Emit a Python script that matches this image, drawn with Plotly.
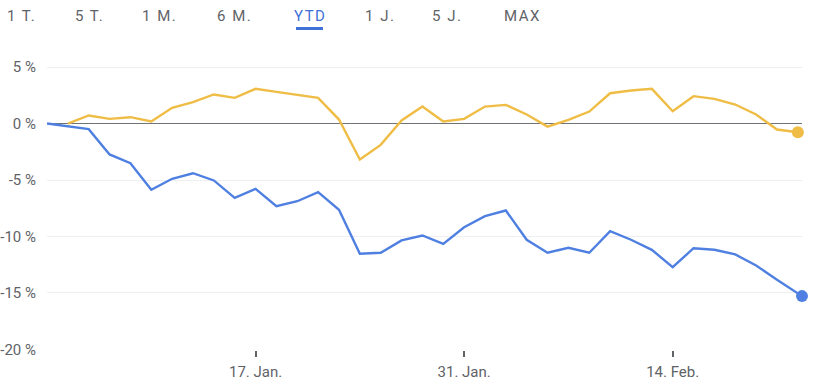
import plotly.graph_objects as go

# ---- data (trading-day index, percent change YTD) ----
blue_x = list(range(36)) + [36.2]
blue_y = [0, -0.25, -0.5, -2.74, -3.51, -5.87, -4.89, -4.40, -5.04, -6.58,
          -5.78, -7.32, -6.88, -6.08, -7.64, -11.53, -11.44, -10.35, -9.91, -10.65,
          -9.18, -8.2, -7.7, -10.29, -11.44, -11.0, -11.44, -9.53, -10.29, -11.18,
          -12.72, -11.04, -11.18, -11.59, -12.57, -13.83, -15.28]

yellow_x = list(range(1, 37))
yellow_y = [0, 0.71, 0.41, 0.56, 0.18, 1.39, 1.89, 2.57, 2.27, 3.07,
            2.8, 2.54, 2.27, 0.35, -3.19, -1.89, 0.27, 1.5, 0.18, 0.41,
            1.5, 1.65, 0.8, -0.27, 0.33, 1.06, 2.68, 2.92, 3.07, 1.09,
            2.42, 2.18, 1.68, 0.8, -0.53, -0.77]

x_tickvals = [10, 20, 30]
x_ticktext = ["17. Jan.", "31. Jan.", "14. Feb."]
y_tickvals = [-20, -15, -10, -5, 0, 5]
y_ticktext = ["-20 %", "-15 %", "-10 %", "-5 %", "0 %", "5 %"]
buttons = ["1 T.", "5 T.", "1 M.", "6 M.", "YTD", "1 J.", "5 J.", "MAX"]
active_button = "YTD"

BLUE = "#4f80e1"
YELLOW = "#efbd45"
GRAY = "#5f6368"
ACTIVE = "#3f72d6"
FONT = "Roboto"

W, H = 830, 384
ML, MT = 47, 58
PW, PH = 755, 292
MR, MB = W - ML - PW, H - MT - PH


def px_x(px):  # page pixel -> paper x
    return (px - ML) / PW


def px_y(py):  # page pixel -> paper y
    return (MT + PH - py) / PH


fig = go.Figure()
fig.add_trace(go.Scatter(x=yellow_x, y=yellow_y, mode="lines",
                         line=dict(color=YELLOW, width=2.4), hoverinfo="skip",
                         cliponaxis=False))
fig.add_trace(go.Scatter(x=blue_x, y=blue_y, mode="lines",
                         line=dict(color=BLUE, width=2.4), hoverinfo="skip",
                         cliponaxis=False))
fig.add_trace(go.Scatter(x=[yellow_x[-1]], y=[yellow_y[-1]], mode="markers",
                         marker=dict(color=YELLOW, size=12), hoverinfo="skip",
                         cliponaxis=False))
fig.add_trace(go.Scatter(x=[blue_x[-1]], y=[blue_y[-1]], mode="markers",
                         marker=dict(color=BLUE, size=12), hoverinfo="skip",
                         cliponaxis=False))

# top range selector labels (centres in page pixels)
centres = [21.5, 89, 159.5, 234, 309.5, 379.5, 447, 522.5]
annotations = []
for lab, cx in zip(buttons, centres):
    annotations.append(dict(
        text='<span style="letter-spacing:1.5px">%s</span>' % lab,
        x=px_x(cx), y=px_y(16), xref="paper", yref="paper",
        xanchor="center", yanchor="middle", showarrow=False,
        font=dict(family=FONT, size=15,
                  color=ACTIVE if lab == active_button else GRAY)))

shapes = [dict(type="line", xref="paper", yref="paper",
               x0=px_x(296), x1=px_x(323), y0=px_y(28.5), y1=px_y(28.5),
               line=dict(color=ACTIVE, width=3))]

fig.update_layout(
    template="none",
    width=W, height=H,
    margin=dict(l=ML, r=MR, t=MT, b=MB, autoexpand=False),
    plot_bgcolor="white", paper_bgcolor="white",
    showlegend=False,
    hovermode=False,
    annotations=annotations,
    shapes=shapes,
    xaxis=dict(range=[0, 36.2], tickvals=x_tickvals, ticktext=x_ticktext,
               showgrid=False, zeroline=False, showline=False, automargin=False,
               ticks="outside", ticklen=6, tickwidth=2, tickcolor=GRAY,
               ticklabelstandoff=2,
               tickfont=dict(family=FONT, size=15, color=GRAY)),
    yaxis=dict(range=[-20.05, 5.8], tickvals=y_tickvals, ticktext=y_ticktext,
               showgrid=True, gridcolor="#eeeff0", gridwidth=1, automargin=False,
               zeroline=True, zerolinecolor="#6f7378", zerolinewidth=1,
               showline=False, ticks="", ticklabelstandoff=10,
               tickfont=dict(family=FONT, size=15, color=GRAY)),
)

fig.write_html("out.html",
               config={"displayModeBar": False},
               post_script="document.body.style.margin='0';"
                           "document.body.style.overflow='hidden';")
